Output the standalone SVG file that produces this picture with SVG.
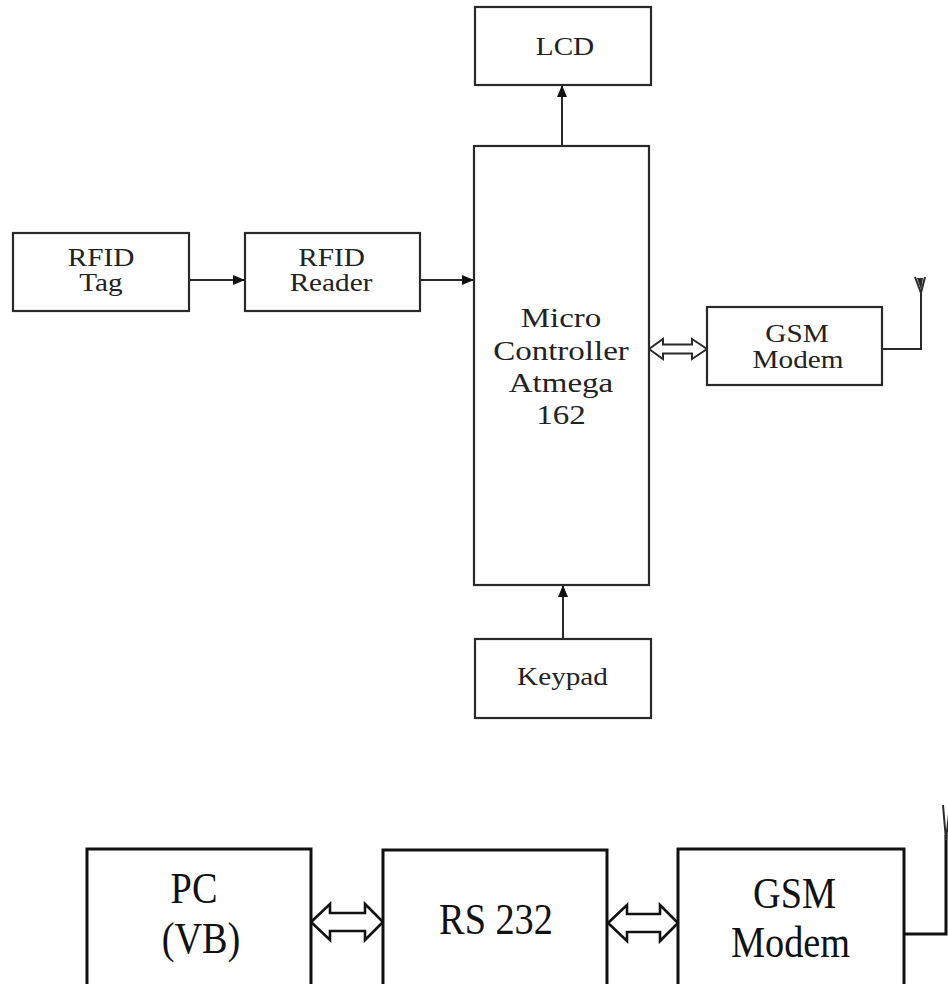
<svg xmlns="http://www.w3.org/2000/svg" width="948" height="984" viewBox="0 0 948 984">
<style>
.box{fill:#fff;stroke:#2a2a2a;stroke-width:2.2}
.bbox{fill:#fff;stroke:#111;stroke-width:3}
.t{font-family:"Liberation Serif","Times New Roman",serif;font-size:25px;fill:#222;text-anchor:middle}
.tm{font-family:"Liberation Serif","Times New Roman",serif;font-size:27.5px;fill:#222;text-anchor:middle}
.tb{font-family:"Liberation Serif","Times New Roman",serif;font-size:44px;fill:#111;text-anchor:middle}
.ln{fill:none;stroke:#2a2a2a;stroke-width:2}
.bln{fill:none;stroke:#111;stroke-width:3}
.dbl{fill:#fff;stroke:#2a2a2a;stroke-width:2;stroke-linejoin:miter}
.bdbl{fill:#fff;stroke:#111;stroke-width:2.6;stroke-linejoin:miter}
</style>
<defs>
<marker id="ah" viewBox="0 0 12 10" refX="12" refY="5" markerWidth="12" markerHeight="10" markerUnits="userSpaceOnUse" orient="auto">
<path d="M0,0 L12,5 L0,10 Z" fill="#111"/>
</marker>
</defs>
<rect width="948" height="984" fill="#fff"/>

<g id="connectors">
<line class="ln" x1="189" y1="280" x2="245" y2="280" marker-end="url(#ah)"/>
<line class="ln" x1="420" y1="280" x2="474" y2="280" marker-end="url(#ah)"/>
<line class="ln" x1="562" y1="146" x2="562" y2="85" marker-end="url(#ah)"/>
<line class="ln" x1="563" y1="639" x2="563" y2="585" marker-end="url(#ah)"/>
<path class="dbl" d="M649,349 L663,339 L663,344.5 L692,344.5 L692,339 L707,349 L692,359 L692,353.5 L663,353.5 L663,359 Z"/>
<path class="ln" d="M882,349 L921,349 L921,292"/>
<path class="ln" d="M915,277 L921,293 L925,277"/>
<path d="M917,278 L921,290 L923,278 Z" fill="#2a2a2a"/>
<path class="bdbl" d="M311,922 L330,904 L330,913 L365,913 L365,904 L383,922 L365,940 L365,931 L330,931 L330,940 Z"/>
<path class="bdbl" d="M608,923 L627,905 L627,914 L660,914 L660,905 L678,923 L660,941 L660,932 L627,932 L627,941 Z"/>
<path class="bln" d="M904,934 L946,934 L946,835"/>
<path class="ln" d="M943,805 L946,840 L950,805"/>
</g>

<g id="rfid-tag">
<rect class="box" x="13" y="233" width="176" height="78"/>
<text class="t" transform="translate(101 266) scale(1.17 1)">RFID</text>
<text class="t" transform="translate(101 291) scale(1.17 1)">Tag</text>
</g>
<g id="rfid-reader">
<rect class="box" x="245" y="233" width="175" height="78"/>
<text class="t" transform="translate(331.5 266) scale(1.17 1)">RFID</text>
<text class="t" transform="translate(331 291) scale(1.17 1)">Reader</text>
</g>
<g id="lcd">
<rect class="box" x="475" y="7" width="176" height="78"/>
<text class="t" transform="translate(565 55) scale(1.17 1)">LCD</text>
</g>
<g id="micro-controller">
<rect class="box" x="474" y="146" width="175" height="439"/>
<text class="tm" transform="translate(561 327) scale(1.2 1)">Micro</text>
<text class="tm" transform="translate(561 360) scale(1.2 1)">Controller</text>
<text class="tm" transform="translate(561 392) scale(1.2 1)">Atmega</text>
<text class="tm" transform="translate(561 424) scale(1.2 1)">162</text>
</g>
<g id="gsm-modem-top">
<rect class="box" x="707" y="307" width="175" height="78"/>
<text class="t" transform="translate(797 342) scale(1.17 1)">GSM</text>
<text class="t" transform="translate(798 368) scale(1.17 1)">Modem</text>
</g>
<g id="keypad">
<rect class="box" x="475" y="639" width="176" height="79"/>
<text class="t" transform="translate(562.5 685) scale(1.17 1)">Keypad</text>
</g>

<g id="pc">
<rect class="bbox" x="87" y="849" width="224" height="160"/>
<text class="tb" transform="translate(194 903) scale(0.87 1)">PC</text>
<text class="tb" transform="translate(201 953) scale(0.87 1)">(VB)</text>
</g>
<g id="rs232">
<rect class="bbox" x="383" y="850" width="224" height="160"/>
<text class="tb" transform="translate(496 934) scale(0.87 1)">RS 232</text>
</g>
<g id="gsm-modem-bottom">
<rect class="bbox" x="678" y="849" width="226" height="160"/>
<text class="tb" transform="translate(794.5 908) scale(0.87 1)">GSM</text>
<text class="tb" transform="translate(790.5 957) scale(0.87 1)">Modem</text>
</g>
</svg>
